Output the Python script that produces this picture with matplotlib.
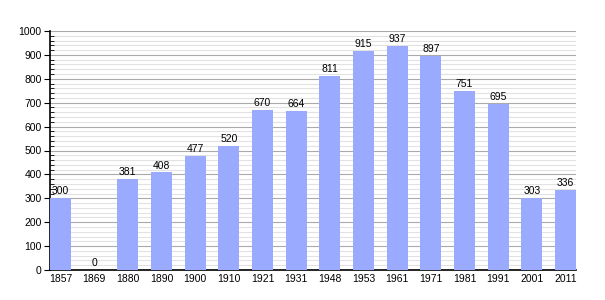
import numpy as np
import matplotlib.pyplot as plt
from matplotlib.ticker import MultipleLocator

years = ['1857', '1869', '1880', '1890', '1900', '1910', '1921', '1931',
         '1948', '1953', '1961', '1971', '1981', '1991', '2001', '2011']
population = [300, 0, 381, 408, 477, 520, 670, 664,
              811, 915, 937, 897, 751, 695, 303, 336]

plt.rcParams['font.family'] = ['Liberation Sans', 'DejaVu Sans']

fig = plt.figure(figsize=(6.05, 3.0), dpi=100)
ax = fig.add_axes([50/605, 30/300, 526/605, 239/300])

x = np.arange(len(years))
w = 0.62
ax.bar(x, population, width=w, color='#99aaff', zorder=3)
for xi, v in zip(x, population):
    ax.text(xi, v + 8, str(v), ha='center', va='bottom', fontsize=7.5, zorder=4)

ax.set_xlim(-w/2, len(years) - 1 + w/2)
ax.set_ylim(0, 1000)
ax.set_xticks(x)
ax.set_xticklabels(years)
ax.yaxis.set_major_locator(MultipleLocator(100))
ax.yaxis.set_minor_locator(MultipleLocator(20))
ax.grid(which='major', axis='y', color='#aaaaaa', linewidth=0.8, zorder=0)
ax.grid(which='minor', axis='y', color='#e2e2e2', linewidth=0.8, zorder=0)

for s in ['top', 'right']:
    ax.spines[s].set_visible(False)
ax.spines['left'].set_linewidth(1.2)
ax.spines['bottom'].set_linewidth(1.2)
ax.tick_params(axis='x', length=0, labelsize=7.5, pad=3)
ax.tick_params(axis='y', which='major', direction='out', length=4, labelsize=7.5, pad=2)
ax.tick_params(axis='y', which='minor', direction='in', length=3)

fig.savefig('out.png', dpi=100)
